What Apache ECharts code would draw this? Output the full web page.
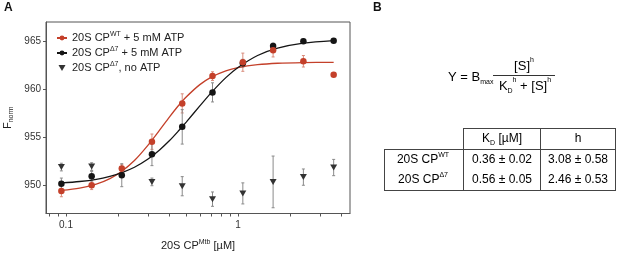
<!DOCTYPE html>
<html>
<head>
<meta charset="utf-8">
<script src="https://cdn.jsdelivr.net/npm/echarts@6/dist/echarts.min.js"></script>
<style>
  html, body { margin: 0; padding: 0; background: #fff; }
  #chart { width: 617px; height: 256px; }
</style>
</head>
<body>
<div id="chart"></div>
<script>
// concentrations (µM)
const conc = [0.094, 0.141, 0.211, 0.316, 0.474, 0.711, 1.067, 1.6, 2.4, 3.6];
const wtVals = [949.35, 949.95, 951.7, 954.5, 958.5, 961.35, 962.8, 964.05, 962.9, 961.5];
const wtErr = [0.6, 0.45, 0.4, 0.8, 1.0, 0.45, 0.95, 0.7, 0.6, 0];
const d7Vals = [950.1, 950.9, 951.0, 953.2, 956.05, 959.65, 962.7, 964.5, 965.0, 965.05];
const d7Err = [0.6, 0.5, 1.2, 1.2, 1.8, 1.0, 0.4, 0.3, 0.2, 0.2];
const noAtpConc = [0.094, 0.141, 0.316, 0.474, 0.711, 1.067, 1.6, 2.4, 3.6];
const noAtpVals = [951.85, 951.9, 950.3, 949.85, 948.5, 949.1, 950.3, 950.8, 951.8];
const noAtpErr = [0.4, 0.4, 0.4, 1.0, 0.75, 1.1, 2.7, 0.85, 0.85];

// fitted curves
const fitConc = [0.094, 0.12, 0.15, 0.18, 0.21, 0.25, 0.3, 0.35, 0.4, 0.45, 0.5, 0.6, 0.7, 0.85, 1.0, 1.3, 1.7, 2.4, 3.6];
const wtFit = [949.41, 949.65, 950.06, 950.64, 951.38, 952.53, 954.14, 955.70, 957.09, 958.25, 959.17, 960.46, 961.25, 961.90, 962.24, 962.54, 962.69, 962.76, 962.79];
const d7Fit = [950.19, 950.34, 950.57, 950.88, 951.25, 951.83, 952.69, 953.64, 954.62, 955.61, 956.55, 958.24, 959.63, 961.19, 962.25, 963.50, 964.27, 964.79, 965.05];

// axes
const yTicks = [950, 955, 960, 965];
const xLabels = [0.1, 1];
const xTicks = [0.08, 0.09, 0.1, 0.2, 0.3, 0.4, 0.5, 0.6, 0.7, 0.8, 0.9, 1, 2, 3, 4];

// legend text
const legendText = {
    wt: '20S CP{sup|WT} + 5 mM ATP',
    d7: '20S CP{sup|Δ7} + 5 mM ATP',
    noatp: '20S CP{sup|Δ7}, no ATP'
};

// table B
const tableHeader = ['K{s|D} [µM]', 'h'];
const tableRows = [
    ['20S CP{p|WT}', '0.36 ± 0.02', '3.08 ± 0.58'],
    ['20S CP{p|Δ7}', '0.56 ± 0.05', '2.46 ± 0.53']
];

const FONT = '"Liberation Sans", Arial, sans-serif';
const RED = '#c4402a';
const RED_ERR = '#d98c7c';
const BLACK = '#151515';
const TRI = '#333333';
const GRAY_ERR = '#8a8a8a';
const triPath = 'path://M0,0L10,0L5,8.5Z';

function errData(xs, ys, es) {
    return xs.map((x, i) => [x, ys[i] - es[i], ys[i] + es[i]]);
}

function errSeries(data, color) {
    return {
        type: 'custom',
        silent: true,
        z: 2,
        data: data,
        encode: {x: 0, y: [1, 2]},
        renderItem: function (params, api) {
            const lo = api.coord([api.value(0), api.value(1)]);
            const hi = api.coord([api.value(0), api.value(2)]);
            const st = {stroke: color, lineWidth: 1};
            return {
                type: 'group',
                children: [
                    {type: 'line', shape: {x1: lo[0], y1: lo[1], x2: hi[0], y2: hi[1]}, style: st},
                    {type: 'line', shape: {x1: lo[0] - 1.5, y1: lo[1], x2: lo[0] + 1.5, y2: lo[1]}, style: st},
                    {type: 'line', shape: {x1: hi[0] - 1.5, y1: hi[1], x2: hi[0] + 1.5, y2: hi[1]}, style: st}
                ]
            };
        }
    };
}

const pair = (xs, ys) => xs.map((x, i) => [x, ys[i]]);

const supRich = {
    sup: {fontSize: 7, verticalAlign: 'top', fontFamily: FONT, color: '#222', lineHeight: 14},
    sub: {fontSize: 7, verticalAlign: 'bottom', fontFamily: FONT, color: '#222', lineHeight: 14}
};

const graphics = [];
graphics.push({type: 'text', left: 4, top: 2, style: {text: 'A', font: 'bold 12px ' + FONT, fill: '#111'}});
graphics.push({type: 'text', left: 373, top: 2, style: {text: 'B', font: 'bold 12px ' + FONT, fill: '#111'}});

// equation
const eqRich = {
    n: {fontSize: 13, fontFamily: FONT, color: '#222'},
    s: {fontSize: 7, fontFamily: FONT, color: '#222', verticalAlign: 'bottom', lineHeight: 18},
    p: {fontSize: 7, fontFamily: FONT, color: '#222', verticalAlign: 'top', lineHeight: 18}
};
graphics.push({type: 'text', x: 448, y: 77, style: {text: '{n|Y = B}{s|max}', rich: eqRich, verticalAlign: 'middle', align: 'left'}});
graphics.push({type: 'line', shape: {x1: 493, y1: 75.5, x2: 555, y2: 75.5}, style: {stroke: '#333', lineWidth: 1}});
graphics.push({type: 'text', x: 524, y: 66, style: {text: '{n|[S]}{p|h}', rich: eqRich, verticalAlign: 'middle', align: 'center'}});
graphics.push({type: 'text', x: 525, y: 86, style: {text: '{n|K}{s|D}{p|h}{n| + [S]}{p|h}', rich: eqRich, verticalAlign: 'middle', align: 'center'}});

// table
const tl = {stroke: '#444', lineWidth: 1};
const hl = (x1, x2, y) => graphics.push({type: 'line', shape: {x1: x1, y1: y, x2: x2, y2: y}, style: tl});
const vl = (x, y1, y2) => graphics.push({type: 'line', shape: {x1: x, y1: y1, x2: x, y2: y2}, style: tl});
hl(463, 616, 128.5);
hl(384, 616, 149.5);
hl(384, 616, 190.5);
vl(384.5, 149, 191);
vl(463.5, 128, 191);
vl(540.5, 128, 191);
vl(615.5, 128, 191);
const tRich = {
    n: {fontSize: 12, fontFamily: FONT, color: '#222'},
    s: {fontSize: 7, fontFamily: FONT, color: '#222', verticalAlign: 'bottom', lineHeight: 16},
    p: {fontSize: 7, fontFamily: FONT, color: '#222', verticalAlign: 'top', lineHeight: 16}
};
const colX = [423, 502, 578];
const wrapN = t => t.replace(/^([^{]+)/, '{n|$1}').replace(/\}([^{}]+)$/, '}{n|$1}');
graphics.push({type: 'text', x: colX[1], y: 139, style: {text: '{n|K}{s|D}{n| [µM]}', rich: tRich, align: 'center', verticalAlign: 'middle'}});
graphics.push({type: 'text', x: colX[2], y: 139, style: {text: '{n|' + tableHeader[1] + '}', rich: tRich, align: 'center', verticalAlign: 'middle'}});
tableRows.forEach((row, r) => {
    const y = 160 + r * 19.5;
    row.forEach((cell, c) => {
        graphics.push({type: 'text', x: colX[c], y: y, style: {text: c === 0 ? wrapN(cell) : '{n|' + cell + '}', rich: tRich, align: 'center', verticalAlign: 'middle'}});
    });
});

const chart = echarts.init(document.getElementById('chart'), null, {renderer: 'canvas'});
chart.setOption({
    animation: false,
    textStyle: {fontFamily: FONT},
    grid: {left: 46, top: 22, right: 267, bottom: 32, show: true, borderColor: '#555', borderWidth: 1},
    legend: {
        orient: 'vertical',
        left: 51,
        top: 26,
        itemWidth: 10,
        itemHeight: 6,
        itemGap: 1,
        data: ['wt', 'd7', 'noatp'],
        formatter: name => legendText[name],
        textStyle: {fontSize: 11, color: '#222', lineHeight: 14, rich: supRich}
    },
    xAxis: {
        type: 'log',
        logBase: 10,
        min: 0.0765,
        max: 4.48,
        name: '20S CP{sup|Mtb} [µM]',
        nameLocation: 'middle',
        nameGap: 25,
        nameTextStyle: {fontSize: 11, color: '#222', rich: supRich},
        axisLine: {lineStyle: {color: '#555'}},
        axisTick: {customValues: xTicks, length: 3, lineStyle: {color: '#555'}},
        axisLabel: {customValues: xLabels, fontSize: 10, color: '#333', margin: 7, formatter: v => String(+v.toPrecision(3))},
        splitLine: {show: false}
    },
    yAxis: {
        type: 'value',
        min: 947,
        max: 967,
        name: 'F{sub|norm}',
        nameLocation: 'middle',
        nameRotate: 90,
        nameGap: 31,
        nameTextStyle: {fontSize: 11, color: '#222', rich: supRich},
        axisLine: {show: true, lineStyle: {color: '#555'}},
        axisTick: {show: true, customValues: yTicks, length: 3, lineStyle: {color: '#555'}},
        axisLabel: {customValues: yTicks, fontSize: 10, color: '#333', margin: 5},
        splitLine: {show: false}
    },
    series: [
        {
            name: 'wt', type: 'line', data: pair(fitConc, wtFit), smooth: 0.3,
            symbol: 'circle', symbolSize: 6, showSymbol: false, z: 3, silent: true,
            lineStyle: {color: RED, width: 1.3}, itemStyle: {color: RED}
        },
        {
            name: 'd7', type: 'line', data: pair(fitConc, d7Fit), smooth: 0.3,
            symbol: 'circle', symbolSize: 6, showSymbol: false, z: 3, silent: true,
            lineStyle: {color: BLACK, width: 1.3}, itemStyle: {color: BLACK}
        },
        errSeries(errData(conc, wtVals, wtErr), RED_ERR),
        errSeries(errData(conc, d7Vals, d7Err), GRAY_ERR),
        errSeries(errData(noAtpConc, noAtpVals, noAtpErr), GRAY_ERR),
        {name: 'd7', type: 'scatter', data: pair(conc, d7Vals), symbol: 'circle', symbolSize: 6.5, z: 4, itemStyle: {color: BLACK, opacity: 1}},
        {name: 'wt', type: 'scatter', data: pair(conc, wtVals), symbol: 'circle', symbolSize: 6.5, z: 5, itemStyle: {color: RED, opacity: 1}},
        {name: 'noatp', type: 'scatter', data: pair(noAtpConc, noAtpVals), symbol: triPath, symbolSize: [7, 6], z: 4, itemStyle: {color: TRI, opacity: 1}}
    ],
    graphic: graphics
});
</script>
</body>
</html>
